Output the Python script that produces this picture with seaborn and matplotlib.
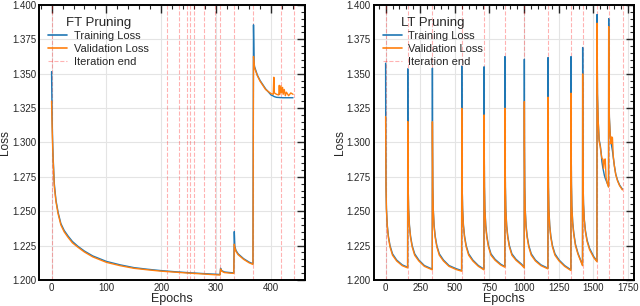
import numpy as np
import pandas as pd
import matplotlib
matplotlib.use("Agg")
import matplotlib.pyplot as plt
from matplotlib.ticker import MultipleLocator, FormatStrFormatter
from matplotlib.lines import Line2D
import seaborn as sns

# ---- FT pruning (left) ----
ft_epochs = [0, 1, 2, 3, 5, 8, 12, 17, 23, 30, 38, 48, 60, 75, 100, 125, 150, 175,
             200, 225, 250, 275, 298, 307, 308, 310, 315, 325, 332, 333, 334, 336,
             340, 350, 360, 367, 368, 369, 370, 375, 380, 390, 400, 404, 405, 406,
             410, 414, 415, 416, 418, 419, 421, 422, 424, 426, 428, 432, 436, 440]
ft_train = [1.3515, 1.318, 1.300, 1.288, 1.270, 1.258, 1.249, 1.241, 1.236, 1.232,
            1.228, 1.2245, 1.221, 1.2175, 1.2135, 1.2110, 1.2090, 1.2078, 1.2068,
            1.2060, 1.2053, 1.2047, 1.2042, 1.2040, 1.2085, 1.2068, 1.2058, 1.2054,
            1.2052, 1.2352, 1.2245, 1.2215, 1.2190, 1.2155, 1.2130, 1.2118, 1.3855,
            1.3580, 1.3550, 1.3490, 1.3450, 1.3390, 1.3345, 1.3338, 1.3335, 1.3333,
            1.3328, 1.3327, 1.3327, 1.3326, 1.3326, 1.3326, 1.3325, 1.3325, 1.3325,
            1.3325, 1.3325, 1.3325, 1.3325, 1.3325]
ft_val = [1.3300, 1.312, 1.297, 1.286, 1.268, 1.257, 1.248, 1.240, 1.235, 1.231,
          1.227, 1.2238, 1.2203, 1.2168, 1.2128, 1.2104, 1.2085, 1.2074, 1.2064,
          1.2057, 1.2050, 1.2044, 1.2038, 1.2036, 1.2080, 1.2064, 1.2054, 1.2050,
          1.2048, 1.2260, 1.2235, 1.2208, 1.2184, 1.2150, 1.2125, 1.2113, 1.3625,
          1.3570, 1.3540, 1.3485, 1.3445, 1.3385, 1.3355, 1.3350, 1.3474, 1.3360,
          1.3350, 1.3345, 1.3415, 1.3350, 1.3412, 1.3360, 1.3400, 1.3350, 1.3385,
          1.3340, 1.3365, 1.3340, 1.3360, 1.3350]
ft_iter_ends = [0, 210, 232, 247, 253, 260, 277, 298, 307, 332, 367, 419, 441]

# ---- LT pruning (right) ----
lt_epochs = [
    0, 1, 3, 6, 12, 20, 32, 50, 80, 120, 159,
    160, 161, 163, 166, 172, 180, 192, 210, 240, 280, 337,
    338, 339, 341, 344, 350, 358, 370, 388, 418, 458, 510, 549,
    550, 551, 553, 556, 562, 570, 582, 600, 630, 670, 710,
    711, 712, 714, 717, 723, 731, 743, 761, 791, 831, 861,
    862, 863, 865, 868, 874, 882, 894, 912, 942, 982, 1001,
    1002, 1003, 1005, 1008, 1014, 1022, 1034, 1052, 1082, 1122, 1172,
    1173, 1174, 1176, 1179, 1185, 1193, 1205, 1223, 1253, 1293, 1338,
    1339, 1340, 1342, 1345, 1351, 1359, 1371, 1389, 1422,
    1423, 1424, 1426, 1429, 1435, 1443, 1455, 1473, 1503, 1526,
    1527, 1530, 1535, 1542, 1550, 1556, 1562, 1568, 1574, 1580, 1586, 1592, 1600, 1610,
    1611, 1613, 1616, 1622, 1628, 1633, 1638, 1644, 1652, 1662, 1675, 1690, 1710]
lt_train = [
    1.3576, 1.300, 1.268, 1.252, 1.240, 1.232, 1.225, 1.219, 1.2145, 1.2110, 1.2093,
    1.3535, 1.300, 1.268, 1.252, 1.240, 1.232, 1.225, 1.219, 1.2145, 1.2105, 1.2079,
    1.3540, 1.300, 1.268, 1.252, 1.240, 1.232, 1.225, 1.219, 1.2145, 1.2105, 1.2082, 1.2069,
    1.3555, 1.300, 1.268, 1.252, 1.240, 1.232, 1.225, 1.219, 1.2145, 1.2105, 1.2079,
    1.3550, 1.300, 1.268, 1.252, 1.240, 1.232, 1.225, 1.219, 1.2150, 1.2115, 1.2098,
    1.3624, 1.300, 1.268, 1.252, 1.240, 1.232, 1.225, 1.219, 1.2150, 1.2115, 1.2093,
    1.3605, 1.300, 1.268, 1.252, 1.240, 1.232, 1.225, 1.219, 1.2145, 1.2110, 1.2086,
    1.3617, 1.300, 1.268, 1.252, 1.240, 1.232, 1.225, 1.219, 1.2145, 1.2105, 1.2074,
    1.3624, 1.302, 1.270, 1.254, 1.242, 1.234, 1.226, 1.2195, 1.2109,
    1.3690, 1.305, 1.272, 1.256, 1.244, 1.236, 1.229, 1.223, 1.217, 1.2138,
    1.3930, 1.335, 1.316, 1.302, 1.298, 1.293, 1.286, 1.282, 1.279, 1.276, 1.274, 1.2725, 1.2705, 1.268,
    1.3900, 1.335, 1.318, 1.306, 1.300, 1.297, 1.294, 1.289, 1.283, 1.277, 1.2725, 1.269, 1.2660]
lt_val = [
    1.3188, 1.298, 1.267, 1.251, 1.239, 1.231, 1.224, 1.218, 1.2138, 1.2104, 1.2088,
    1.3152, 1.298, 1.267, 1.251, 1.239, 1.231, 1.224, 1.218, 1.2138, 1.2099, 1.2074,
    1.3150, 1.298, 1.267, 1.251, 1.239, 1.231, 1.224, 1.218, 1.2138, 1.2099, 1.2076, 1.2064,
    1.3248, 1.298, 1.267, 1.251, 1.239, 1.231, 1.224, 1.218, 1.2138, 1.2099, 1.2074,
    1.3200, 1.298, 1.267, 1.251, 1.239, 1.231, 1.224, 1.218, 1.2143, 1.2109, 1.2093,
    1.3249, 1.298, 1.267, 1.251, 1.239, 1.231, 1.224, 1.218, 1.2143, 1.2109, 1.2088,
    1.3297, 1.298, 1.267, 1.251, 1.239, 1.231, 1.224, 1.218, 1.2138, 1.2104, 1.2081,
    1.3329, 1.298, 1.267, 1.251, 1.239, 1.231, 1.224, 1.218, 1.2138, 1.2099, 1.2069,
    1.3358, 1.300, 1.269, 1.253, 1.241, 1.233, 1.225, 1.2188, 1.2104,
    1.3498, 1.303, 1.271, 1.255, 1.243, 1.235, 1.228, 1.222, 1.2163, 1.2133,
    1.3867, 1.335, 1.316, 1.301, 1.297, 1.292, 1.2885, 1.288, 1.281, 1.2875, 1.288, 1.2745, 1.2705, 1.2675,
    1.3842, 1.335, 1.317, 1.305, 1.299, 1.304, 1.3035, 1.290, 1.283, 1.2765, 1.272, 1.2685, 1.2655]
lt_iter_ends = [0, 159, 337, 549, 710, 861, 1001, 1172, 1338, 1422, 1526, 1610, 1712]

panels = [
    ("FT Pruning", ft_epochs, ft_train, ft_val, ft_iter_ends, 100, 20),
    ("LT Pruning", lt_epochs, lt_train, lt_val, lt_iter_ends, 250, 50),
]

sns.set_style("white")
plt.rcParams["font.family"] = ["Liberation Sans", "DejaVu Sans"]

fig = plt.figure(figsize=(6.4, 3.06), dpi=100)
axes = [fig.add_axes([0.0617, 0.085, 0.415, 0.899]),
        fig.add_axes([0.584, 0.085, 0.407, 0.899])]

blue = "#1f77b4"
orange = "#ff7f0e"

for ax, (title, ep, tr, va, ends, major, minor) in zip(axes, panels):
    df = pd.DataFrame({"Epochs": ep + ep,
                       "Loss": tr + va,
                       "kind": ["Training Loss"] * len(ep) + ["Validation Loss"] * len(ep)})
    sns.lineplot(data=df, x="Epochs", y="Loss", hue="kind",
                 palette={"Training Loss": blue, "Validation Loss": orange},
                 estimator=None, linewidth=1.0, ax=ax, legend=False)
    for e in ends:
        ax.axvline(e, color="red", ls="--", lw=0.8, alpha=0.3, zorder=1)

    ax.set_ylim(1.2, 1.4)
    ax.yaxis.set_major_locator(MultipleLocator(0.025))
    ax.yaxis.set_minor_locator(MultipleLocator(0.005))
    ax.yaxis.set_major_formatter(FormatStrFormatter("%.3f"))
    ax.xaxis.set_major_locator(MultipleLocator(major))
    ax.xaxis.set_minor_locator(MultipleLocator(minor))
    ax.tick_params(which="both", direction="in", top=True, right=True,
                   labelsize=7, pad=2.5)
    ax.tick_params(which="major", length=6, width=1.0)
    ax.tick_params(which="minor", length=3, width=0.8)
    ax.grid(True, which="major", color="#e4e4e4", lw=0.8)
    ax.set_axisbelow(True)
    for s in ax.spines.values():
        s.set_linewidth(1.4)
        s.set_color("black")
    ax.set_xlabel("Epochs", fontsize=9, labelpad=0)
    ax.set_ylabel("Loss", fontsize=8.5)
    ax.yaxis.set_label_coords(-0.108, 0.5)

    handles = [Line2D([], [], color=blue, lw=1.2),
               Line2D([], [], color=orange, lw=1.2),
               Line2D([], [], color="red", ls="--", lw=0.8, alpha=0.3)]
    leg = ax.legend(handles, ["Training Loss", "Validation Loss", "Iteration end"],
                    loc="upper left", frameon=False, title=title,
                    title_fontsize=9.5, fontsize=8, handlelength=1.7,
                    labelspacing=0.25, handletextpad=0.6, borderaxespad=0.4,
                    bbox_to_anchor=(0.0, 0.99))

fig.savefig("out.png", dpi=100)
